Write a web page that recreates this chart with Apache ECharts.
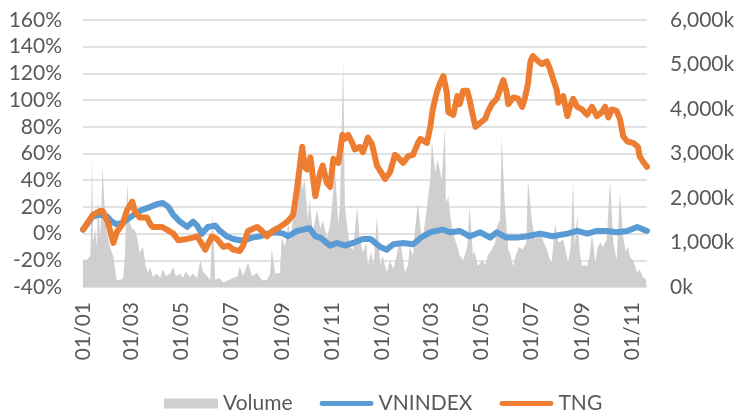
<!DOCTYPE html>
<html>
<head>
<meta charset="utf-8">
<script src="https://cdn.jsdelivr.net/npm/echarts@6/dist/echarts.min.js"></script>
<style>
  html, body { margin: 0; padding: 0; background: #fff; }
  #chart { width: 738px; height: 410px; }
</style>
</head>
<body>
<div id="chart"></div>
<script>
// x values are days counted from 01/01 of the first year
var monthTicks = [0, 59, 120, 181, 243, 304, 365, 424, 485, 546, 608, 669];
var monthLabels = ['01/01', '01/03', '01/05', '01/07', '01/09', '01/11',
                   '01/01', '01/03', '01/05', '01/07', '01/09', '01/11'];

// TNG, % change
var tngDays = [0, 12, 21, 24, 30, 37, 41, 48, 54, 60, 63, 69, 78, 82, 85, 96, 102, 110, 116, 127,
  134, 139, 149, 157, 163, 171, 177, 183, 191, 195, 201, 212, 218, 224, 231, 240, 249, 256, 261, 267,
  270, 273, 277, 283, 289, 292, 297, 301, 305, 311, 316, 319, 323, 328, 331, 337, 341, 347, 352, 358,
  362, 368, 374, 380, 384, 390, 396, 402, 408, 411, 419, 423, 426, 431, 435, 439, 443, 445, 451, 456,
  459, 463, 468, 471, 474, 478, 484, 490, 493, 498, 504, 508, 512, 516, 518, 524, 530, 535, 538, 542,
  545, 548, 553, 559, 565, 569, 573, 577, 579, 585, 590, 593, 597, 602, 608, 614, 620, 626, 632, 636,
  640, 644, 650, 654, 658, 663, 670, 676, 678, 682, 687];
var tngValues = [3, 14, 17, 17, 9, -7, 1, 7, 18, 24, 17, 12, 12, 7, 5, 5, 3, 0, -5, -4,
  -3, -2, -12, -2, -4, -10, -9, -12, -13, -9, 2, 5, 2, -2, 2, 5, 9, 14, 35, 65,
  50, 48, 57, 28, 46, 51, 38, 35, 56, 53, 74, 71, 74, 68, 63, 65, 61, 72, 67, 51,
  47, 41, 46, 59, 57, 53, 58, 59, 68, 71, 68, 80, 93, 106, 113, 118, 106, 91, 89, 103,
  97, 107, 107, 100, 91, 80, 83, 86, 91, 97, 101, 108, 115, 106, 97, 102, 101, 95, 101, 112,
  129, 133, 130, 127, 129, 123, 115, 108, 98, 103, 88, 95, 101, 95, 93, 89, 95, 88, 91, 95,
  87, 93, 92, 86, 73, 69, 68, 65, 58, 54, 50];

// VNINDEX, % change
var vnDays = [0, 12, 21, 29, 35, 41, 48, 57, 66, 73, 82, 90, 97, 104, 110, 118, 127, 134, 139, 145,
  152, 161, 167, 175, 183, 191, 197, 206, 216, 224, 236, 244, 250, 261, 268, 276, 283, 289, 301, 309,
  319, 329, 341, 350, 362, 370, 378, 390, 402, 414, 423, 438, 447, 459, 471, 484, 496, 504, 516, 529,
  541, 557, 572, 590, 602, 614, 626, 638, 650, 663, 675, 687];
var vnValues = [3, 13, 14, 13, 9, 7, 8, 12, 16, 18, 20, 22, 23, 20, 14, 9, 5, 9, 6, 0,
  5, 6, 2, -2, -4, -5, -5, -3, -2, 0, 1, 0, -2, 2, 3, 4, -2, -3, -9, -7,
  -9, -7, -4, -4, -10, -12, -8, -7, -8, -2, 1, 3, 1, 2, -2, 1, -3, 1, -3, -3,
  -2, 0, -2, 0, 2, 0, 2, 2, 1, 2, 5, 2];

// Volume, thousands of shares
var volDays = [0, 5, 9, 11, 12, 15, 17, 18, 21, 24, 27, 29, 33, 37, 39, 41, 45, 49, 51, 54,
  56, 60, 63, 66, 69, 73, 76, 79, 82, 85, 90, 94, 97, 101, 106, 110, 113, 118, 122, 125,
  130, 134, 139, 143, 146, 151, 155, 158, 161, 166, 171, 177, 183, 188, 191, 195, 201, 206, 212, 218,
  224, 228, 230, 234, 240, 242, 246, 250, 253, 258, 262, 264, 267, 270, 274, 276, 280, 285, 289, 292,
  297, 301, 303, 307, 311, 313, 317, 319, 322, 325, 329, 334, 337, 341, 345, 347, 351, 354, 358, 362,
  365, 370, 374, 378, 382, 386, 390, 392, 396, 398, 402, 404, 408, 413, 417, 419, 423, 425, 429, 432,
  437, 441, 442, 445, 448, 451, 456, 459, 463, 468, 471, 475, 477, 481, 486, 490, 493, 498, 502, 504,
  508, 510, 514, 518, 521, 524, 527, 531, 536, 540, 542, 547, 551, 557, 560, 565, 569, 571, 575, 579,
  585, 589, 591, 594, 597, 599, 602, 605, 608, 611, 614, 617, 620, 624, 627, 630, 633, 638, 642, 646,
  650, 654, 658, 661, 664, 666, 670, 675, 678, 682, 686];
var volValues = [610, 610, 700, 3000, 1000, 1290, 900, 2030, 1100, 2700, 1500, 1220, 900, 680, 400, 160, 160, 200, 700, 2340,
  1500, 1300, 1290, 1100, 770, 900, 500, 320, 450, 230, 300, 200, 400, 250, 300, 450, 250, 300, 200, 350,
  230, 300, 200, 610, 350, 250, 160, 1660, 160, 200, 100, 150, 200, 230, 460, 250, 550, 250, 320, 150,
  160, 300, 840, 300, 320, 1130, 900, 1440, 1000, 2030, 1800, 3240, 2190, 2410, 1500, 1960, 1220, 1740, 1300, 1500,
  1100, 1400, 1740, 2640, 1400, 1800, 5100, 1800, 1350, 900, 840, 1800, 1100, 770, 1000, 460, 800, 500, 1580, 500,
  700, 320, 600, 400, 700, 1060, 600, 320, 500, 900, 700, 1220, 1900, 1000, 1500, 1800, 2410, 3300, 2560, 2860,
  2400, 3600, 1900, 2030, 1500, 1200, 900, 700, 600, 900, 1800, 700, 800, 460, 600, 500, 700, 840, 1000, 1350,
  1500, 3350, 1800, 840, 700, 460, 700, 900, 840, 1000, 2410, 1440, 1060, 1220, 1060, 840, 600, 550, 1440, 1000,
  1060, 700, 550, 900, 2400, 900, 1600, 800, 460, 500, 460, 700, 1200, 550, 900, 1000, 900, 1060, 2400, 1000,
  610, 2110, 1130, 800, 900, 680, 600, 320, 400, 230, 150];

function pairs(xs, ys) {
  return xs.map(function (d, i) { return [d, ys[i]]; });
}

var textColor = '#595959';
var font = 'Lato, "Open Sans", sans-serif';
// thin rounded bar inside a 54x10 box, for the line legend icons
var lineIcon = 'path://M0,0L54,0L54,0ZM2,2.5L52,2.5A2.5,2.5,0,0,1,52,7.5L2,7.5A2.5,2.5,0,0,1,2,2.5ZM0,10L54,10L54,10Z';

var chart = echarts.init(document.getElementById('chart'));
chart.setOption({
  animation: false,
  backgroundColor: '#fff',
  textStyle: { fontFamily: font },
  grid: { left: 83, right: 91, top: 20, bottom: 123 },
  legend: {
    top: 388,
    left: 159,
    itemGap: 27,
    itemWidth: 54,
    itemHeight: 10,
    textStyle: { color: textColor, fontSize: 21, fontFamily: font },
    data: [
      { name: 'Volume', icon: 'rect', itemStyle: { color: '#d0cece' } },
      { name: 'VNINDEX', icon: lineIcon, itemStyle: { color: '#5b9bd5' } },
      { name: 'TNG', icon: lineIcon, itemStyle: { color: '#ed7d31' } }
    ]
  },
  xAxis: {
    type: 'value',
    min: 0,
    max: 687,
    splitLine: { show: false },
    axisLine: { show: false },
    axisTick: { show: false },
    axisLabel: {
      customValues: monthTicks,
      rotate: 90,
      margin: 15,
      color: textColor,
      fontSize: 21,
      fontFamily: font,
      formatter: function (v) {
        var i = monthTicks.indexOf(v);
        return i >= 0 ? monthLabels[i] : '';
      }
    }
  },
  yAxis: [
    {
      type: 'value',
      min: -40,
      max: 160,
      interval: 20,
      axisLine: { show: false },
      axisTick: { show: false },
      splitLine: { lineStyle: { color: '#d9d9d9', width: 1.5 } },
      axisLabel: {
        color: textColor, fontSize: 21, fontFamily: font, margin: 21,
        formatter: '{value}%'
      }
    },
    {
      type: 'value',
      min: 0,
      max: 6000,
      interval: 1000,
      axisLine: { show: false },
      axisTick: { show: false },
      splitLine: { show: false },
      axisLabel: {
        color: textColor, fontSize: 21, fontFamily: font, margin: 23,
        formatter: function (v) {
          return (v === 0 ? '0' : echarts.format.addCommas(v)) + 'k';
        }
      }
    }
  ],
  series: [
    {
      name: 'Volume',
      type: 'line',
      yAxisIndex: 1,
      symbol: 'none',
      data: pairs(volDays, volValues),
      lineStyle: { width: 0 },
      itemStyle: { color: '#d0cece' },
      areaStyle: { color: '#d0cece', opacity: 1 },
      z: 1
    },
    {
      name: 'VNINDEX',
      type: 'line',
      symbol: 'none',
      data: pairs(vnDays, vnValues),
      itemStyle: { color: '#5b9bd5' },
      lineStyle: { color: '#5b9bd5', width: 6, cap: 'round', join: 'round' },
      z: 3
    },
    {
      name: 'TNG',
      type: 'line',
      symbol: 'none',
      data: pairs(tngDays, tngValues),
      itemStyle: { color: '#ed7d31' },
      lineStyle: { color: '#ed7d31', width: 6, cap: 'round', join: 'round' },
      z: 4
    }
  ]
});
</script>
</body>
</html>
